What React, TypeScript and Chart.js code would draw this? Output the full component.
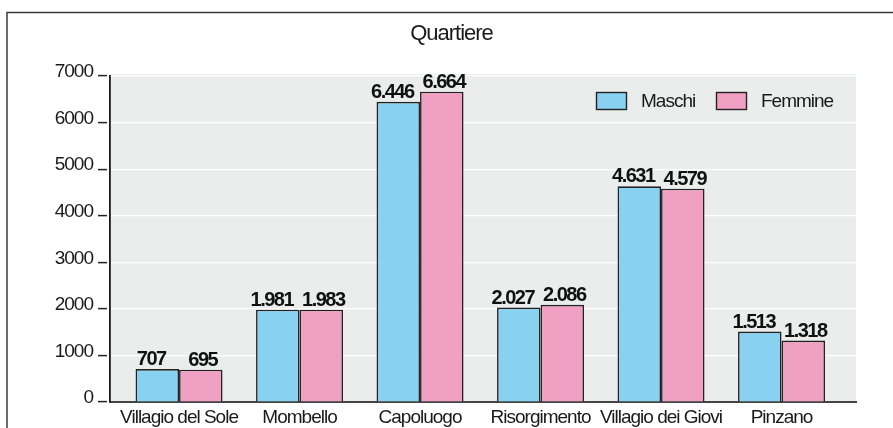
import React, { useEffect, useRef } from 'react';
import { Chart, registerables } from 'chart.js';

Chart.register(...registerables);

const TITLE = 'Quartiere';
const categories = ['Villagio del Sole', 'Mombello', 'Capoluogo', 'Risorgimento', 'Villagio dei Giovi', 'Pinzano'];
const seriesNames = ['Maschi', 'Femmine'];
const maschi = [707, 1981, 6446, 2027, 4631, 1513];
const femmine = [695, 1983, 6664, 2086, 4579, 1318];
const yTickValues = [0, 1000, 2000, 3000, 4000, 5000, 6000, 7000];
const seriesColors = ['#88d1f0', '#f0a0c2'];

const FONT = '"Liberation Sans", Arial, sans-serif';
const TEXT = '#1a1a1a';
const SPACING = '-1px';

const fmt = (v: number) => String(v).replace(/\B(?=(\d{3})+(?!\d))/g, '.');

const setSpacing = (ctx: any, s: string) => {
  if (ctx && 'letterSpacing' in ctx) ctx.letterSpacing = s;
};

const decor = {
  id: 'decor',
  beforeInit(chart: any) {
    setSpacing(chart.ctx, SPACING);
  },
  beforeLayout(chart: any) {
    setSpacing(chart.ctx, SPACING);
  },
  beforeDraw(chart: any) {
    const { ctx, chartArea: a } = chart;
    setSpacing(ctx, SPACING);
    ctx.save();
    ctx.strokeStyle = '#3a3a3a';
    ctx.lineWidth = 1.5;
    ctx.strokeRect(7, 12.5, chart.width + 50, chart.height + 50);
    ctx.fillStyle = '#ebecec';
    ctx.fillRect(a.left, a.top - 2, a.right - a.left, a.bottom - a.top + 2);
    ctx.fillStyle = TEXT;
    ctx.font = `22px ${FONT}`;
    ctx.textAlign = 'center';
    ctx.textBaseline = 'middle';
    ctx.fillText(TITLE, chart.width / 2 + 5, 34);
    ctx.restore();
  },
  afterDatasetsDraw(chart: any) {
    const { ctx } = chart;
    const offsets = [-6, 2];
    ctx.save();
    setSpacing(ctx, '-1.5px');
    ctx.fillStyle = '#111';
    ctx.font = `bold 20px ${FONT}`;
    ctx.textAlign = 'center';
    ctx.textBaseline = 'alphabetic';
    chart.data.datasets.forEach((ds: any, di: number) => {
      const meta = chart.getDatasetMeta(di);
      meta.data.forEach((bar: any, i: number) => {
        const v = ds.data[i].y;
        ctx.fillText(fmt(v), bar.x + offsets[di], bar.y - 4);
      });
    });
    ctx.restore();
  },
  afterDraw(chart: any) {
    const { ctx, chartArea: a } = chart;
    ctx.save();
    const starts = [a.right - 260, a.right - 140];
    const y = a.top + 16;
    ctx.font = `19px ${FONT}`;
    ctx.textBaseline = 'middle';
    ctx.textAlign = 'left';
    chart.data.datasets.forEach((ds: any, di: number) => {
      const x = starts[di];
      ctx.fillStyle = ds.backgroundColor;
      ctx.fillRect(x, y, 31, 18);
      ctx.strokeStyle = '#222';
      ctx.lineWidth = 1.4;
      ctx.strokeRect(x + 0.5, y + 0.5, 30, 17);
      ctx.fillStyle = TEXT;
      ctx.fillText(ds.label, x + 45, y + 10);
    });
    ctx.restore();
  },
};

export default function App() {
  const ref = useRef<HTMLCanvasElement>(null);

  useEffect(() => {
    if (!ref.current) return;
    const series = [maschi, femmine];
    const chart = new Chart(ref.current, {
      type: 'bar',
      data: {
        datasets: series.map((vals, si) => ({
          label: seriesNames[si],
          data: vals.map((v, i) => ({ x: i, y: v })),
          backgroundColor: seriesColors[si],
          borderColor: '#222222',
          borderWidth: 1.6,
          categoryPercentage: 0.722,
          barPercentage: 1,
        })),
      },
      options: {
        responsive: false,
        animation: false,
        layout: { padding: { left: 10, right: 37, top: 76, bottom: 0 } },
        plugins: {
          legend: { display: false },
          title: { display: false },
          tooltip: { enabled: false },
        },
        scales: {
          x: {
            type: 'linear',
            offset: false,
            min: -0.573,
            max: 5.618,
            afterBuildTicks: (axis: any) => {
              axis.ticks = categories.map((_, i) => ({ value: i }));
            },
            afterFit: (axis: any) => {
              axis.height = 26;
            },
            grid: { display: false, drawTicks: false, offset: false },
            border: { display: true, color: '#444444', width: 2 },
            ticks: {
              autoSkip: false,
              maxRotation: 0,
              padding: 4,
              color: TEXT,
              font: { family: FONT, size: 19 },
              callback: (v: any) => categories[v as number] ?? '',
            },
          },
          y: {
            min: 0,
            max: 7000,
            afterBuildTicks: (axis: any) => {
              axis.ticks = yTickValues.map((v) => ({ value: v }));
            },
            afterFit: (axis: any) => {
              axis.width = 100;
            },
            grid: {
              color: '#ffffff',
              lineWidth: 1.2,
              drawTicks: true,
              tickLength: 12,
              tickColor: '#222',
              tickWidth: 1.5,
              tickBorderDash: [9, 100],
            },
            border: { display: true, color: '#1a1a1a', width: 1.8 },
            ticks: {
              padding: 5,
              labelOffset: -4,
              color: TEXT,
              font: { family: FONT, size: 19 },
              callback: (v: any) => String(v),
            },
          },
        },
      },
      plugins: [decor],
    });
    return () => chart.destroy();
  }, []);

  return (
    <div style={{ position: 'absolute', left: 0, top: 0, width: 893, height: 428, background: '#fff' }}>
      <canvas ref={ref} width={893} height={428} style={{ width: 893, height: 428, display: 'block' }} />
    </div>
  );
}
